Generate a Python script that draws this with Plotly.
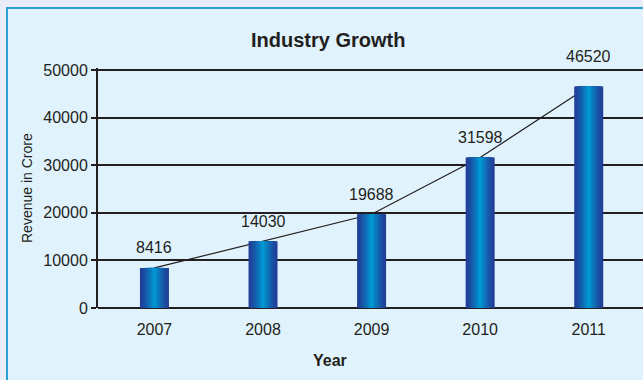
import plotly.graph_objects as go

years = ["2007", "2008", "2009", "2010", "2011"]
revenue = [8416, 14030, 19688, 31598, 46520]
y_ticks = [0, 10000, 20000, 30000, 40000, 50000]

FONT = "Liberation Sans, Arial, sans-serif"
INK = "#231f20"

W, H = 643, 380
L, R, T, B = 98, 0, 68, 72
pw, ph = W - L - R, H - T - B
ytop = 50400

fig = go.Figure()

# trend line (drawn underneath the bars)
fig.add_trace(go.Scatter(x=years, y=revenue, mode="lines",
                         line=dict(color=INK, width=1.2),
                         xaxis="x", yaxis="y", hoverinfo="skip", showlegend=False))

# gradient bars built from stacked overlay strips
n = 12
dark = (0x22, 0x3f, 0x98)
light = (0x00, 0x98, 0xd2)
full_w = 0.267
for i in range(n):
    t = i / (n - 1)
    w = full_w * (1 - t) + 0.02 * t
    f = t ** 1.3
    c = tuple(int(dark[k] + (light[k] - dark[k]) * f) for k in range(3))
    fig.add_trace(go.Bar(x=years, y=revenue, width=w,
                         marker=dict(color="rgb(%d,%d,%d)" % c, line=dict(width=0)),
                         xaxis="x2", yaxis="y2", hoverinfo="skip", showlegend=False))

# value labels (category index positions); labels that would hit the top
# gridline are lifted above it
top_grid = y_ticks[-1]
for i, v in enumerate(revenue):
    if v > top_grid - 5000:
        fig.add_annotation(x=i, y=top_grid, xref="x", yref="y", text=str(v),
                           showarrow=False, yanchor="bottom", yshift=3,
                           font=dict(family=FONT, size=16, color=INK))
    else:
        fig.add_annotation(x=i, y=v, xref="x", yref="y", text=str(v),
                           showarrow=False, yshift=20,
                           font=dict(family=FONT, size=16, color=INK))

xr = [-0.52, 4.5]
fig.update_layout(
    width=W, height=H,
    margin=dict(l=L, r=R, t=T, b=B, pad=0),
    paper_bgcolor="#e9edf7",
    plot_bgcolor="rgba(0,0,0,0)",
    barmode="overlay",
    showlegend=False,
    xaxis=dict(type="category", range=xr, showgrid=False, ticks="",
               showline=False, zeroline=False,
               tickfont=dict(family=FONT, size=16, color=INK),
               ticklabelstandoff=10),
    yaxis=dict(range=[0, ytop], tickvals=y_ticks, ticktext=[str(v) for v in y_ticks],
               showgrid=True, gridcolor=INK, gridwidth=2,
               zeroline=True, zerolinecolor=INK, zerolinewidth=2,
               showline=True, linecolor=INK, linewidth=2,
               ticks="outside", ticklen=5, tickwidth=2, tickcolor=INK,
               tickfont=dict(family=FONT, size=16, color=INK)),
    xaxis2=dict(type="category", range=xr, overlaying="x", visible=False),
    yaxis2=dict(range=[0, ytop], overlaying="y", visible=False),
    shapes=[dict(type="rect", xref="paper", yref="paper", layer="below",
                 x0=(7 - L) / pw, x1=1.02, y0=-0.4, y1=1 + (T - 8) / ph,
                 fillcolor="#e0f2fc", line=dict(color="#2a9fd8", width=2))],
)

fig.add_annotation(text="<b>Industry Growth</b>", xref="paper", yref="paper",
                   x=(328 - L) / pw, y=1 + (T - 40) / ph, showarrow=False,
                   xanchor="center", yanchor="middle",
                   font=dict(family=FONT, size=20, color=INK))
fig.add_annotation(text="<b>Year</b>", xref="paper", yref="paper",
                   x=(330 - L) / pw, y=-(360 - (T + ph)) / ph, showarrow=False,
                   xanchor="center", yanchor="middle",
                   font=dict(family=FONT, size=16, color=INK))
fig.add_annotation(text="Revenue in Crore", xref="paper", yref="paper",
                   x=(27 - L) / pw, y=0.5, showarrow=False, textangle=-90,
                   xanchor="center", yanchor="middle",
                   font=dict(family=FONT, size=14, color=INK))

fig.write_html("out.html")
